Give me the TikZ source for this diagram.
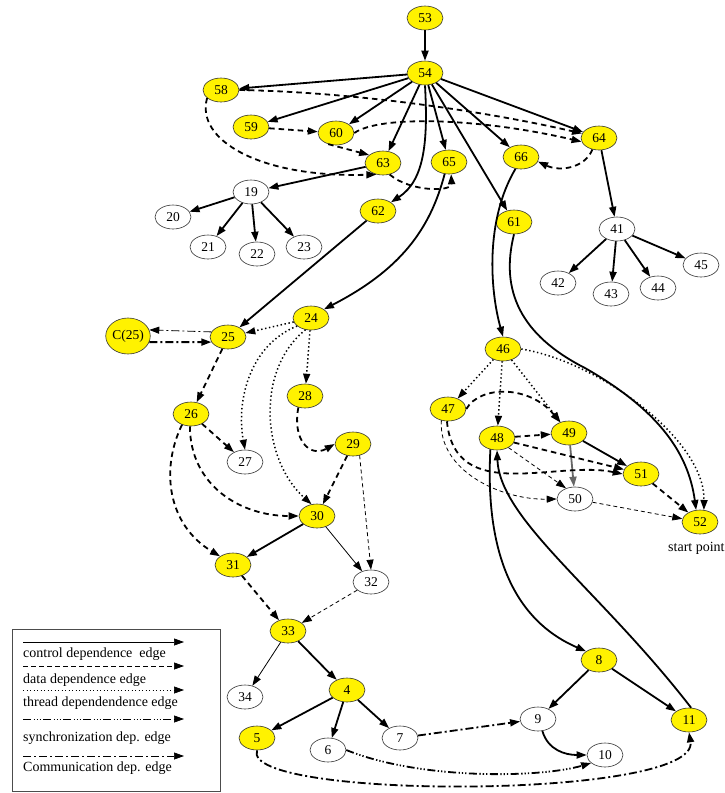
\documentclass[tikz,border=0pt]{standalone}
\usepackage{fontspec}
\setmainfont{Liberation Serif}
\usetikzlibrary{arrows.meta,shapes.geometric}
\newcommand{\nodefont}{\fontsize{13.5}{15}\selectfont}
\newcommand{\legfont}{\fontsize{14}{16}\selectfont}
\tikzset{
  yn/.style={ellipse, draw=black!80, line width=0.6pt, fill=yellow, minimum width=36pt, minimum height=24pt, inner sep=0pt, font=\nodefont},
  wn/.style={yn, fill=white},
  ar/.style={-{Triangle[length=10pt,width=7pt]}},
  ctl/.style={ar, line width=1.8pt},
  ctlthin/.style={ar, line width=0.8pt},
  dat/.style={ar, line width=1.8pt, dash pattern=on 5.5pt off 4pt},
  datthin/.style={ar, line width=0.8pt, dash pattern=on 4pt off 3pt},
  thr/.style={ar, line width=1.5pt, dash pattern=on 1.4pt off 2.6pt},
  com/.style={ar, line width=1.8pt, dash pattern=on 8pt off 3pt on 2pt off 3pt},
  comthin/.style={ar, line width=0.8pt, dash pattern=on 8pt off 3pt on 2pt off 3pt},
  syn/.style={ar, line width=1.8pt, dash pattern=on 8pt off 2.5pt on 1.3pt off 2pt on 1.3pt off 2pt on 1.3pt off 2.5pt},
  legline/.style={line width=0.7pt, -{Triangle[length=10pt,width=7pt]}},
  legtext/.style={anchor=west, inner sep=0pt, font=\legfont}
}
\begin{document}
\begin{tikzpicture}[x=1pt,y=-1pt]
\useasboundingbox (0,0) rectangle (725,793);
% nodes
\node[yn] (n53) at (425,18) {53};
\node[yn] (n54) at (425,73) {54};
\node[yn] (n58) at (221,90) {58};
\node[yn] (n59) at (251,127) {59};
\node[yn] (n60) at (336,133) {60};
\node[yn] (n63) at (383,163) {63};
\node[yn] (n65) at (449,162) {65};
\node[yn] (n66) at (521,157) {66};
\node[yn] (n64) at (599,138) {64};
\node[yn] (n62) at (378,211) {62};
\node[yn] (n61) at (514,222) {61};
\node[wn] (n19) at (251,192) {19};
\node[wn] (n20) at (173,217) {20};
\node[wn] (n21) at (208,247) {21};
\node[wn] (n22) at (257,254) {22};
\node[wn] (n23) at (304,247) {23};
\node[wn] (n41) at (617,229) {41};
\node[wn] (n42) at (558,283) {42};
\node[wn] (n43) at (611,294) {43};
\node[wn] (n44) at (658,288) {44};
\node[wn] (n45) at (701,265) {45};
\node[yn,minimum width=42pt,minimum height=36pt] (c25) at (128,336) {C(25)};
\node[yn] (n25) at (228,337) {25};
\node[yn] (n24) at (311,318) {24};
\node[yn] (n28) at (305,396) {28};
\node[yn] (n26) at (191,414) {26};
\node[wn] (n27) at (245,462) {27};
\node[yn] (n29) at (353,444) {29};
\node[yn] (n30) at (317,516) {30};
\node[yn] (n31) at (233,565) {31};
\node[wn] (n32) at (371,582) {32};
\node[yn] (n33) at (288,631) {33};
\node[wn] (n34) at (245,697) {34};
\node[yn] (n4) at (347,690) {4};
\node[yn] (n5) at (257,738) {5};
\node[wn] (n6) at (328,750) {6};
\node[wn] (n7) at (400,738) {7};
\node[wn] (n9) at (538,719) {9};
\node[wn] (n10) at (605,755) {10};
\node[yn] (n8) at (599,660) {8};
\node[yn] (n11) at (689,720) {11};
\node[yn] (n46) at (503,349) {46};
\node[yn] (n47) at (448,409) {47};
\node[yn] (n48) at (497,438) {48};
\node[yn] (n49) at (569,433) {49};
\node[yn] (n51) at (641,474) {51};
\node[wn] (n50) at (575,499) {50};
\node[yn] (n52) at (700,522) {52};
\node[legtext] (sp) at (668,548) {start point};

% control dependence
\draw[ctl] (n53) -- (n54);
\draw[ctl] (n54) -- (n58);
\draw[ctl] (n54) -- (n59);
\draw[ctl] (n54) -- (n60);
\draw[ctl] (n54) -- (n63);
\draw[ctl] (n54) -- (n65);
\draw[ctl] (n54) -- (n66);
\draw[ctl] (n54) -- (n61);
\draw[ctl] (n54) -- (n64);
\draw[ctl] (n54.south) .. controls (428,140) and (425,180) .. (n62.north east);
\draw[ctl] (n63) -- (n19);
\draw[ctl] (n19) -- (n20);
\draw[ctl] (n19) -- (n21);
\draw[ctl] (n19) -- (n22);
\draw[ctl] (n19) -- (n23);
\draw[ctl] (n64) -- (n41);
\draw[ctl] (n41) -- (n42);
\draw[ctl] (n41) -- (n43);
\draw[ctl] (n41) -- (n44);
\draw[ctl] (n41) -- (n45);
\draw[ctl] (n62) -- (n25);
\draw[ctl] (n65.-110) .. controls (430,230) and (400,270) .. (n24.north east);
\draw[ctl] (n66.-115) .. controls (485,220) and (490,290) .. (n46.north);
\draw[ctl] (n61.south) .. controls (500,290) and (520,335) .. (585,368) .. controls (655,408) and (688,450) .. (n52.108);
\draw[ctl] (n30) -- (n31);
\draw[ctlthin] (n30) -- (n32);
\draw[ctlthin] (n33) -- (n34);
\draw[ctl] (n33) -- (n4);
\draw[ctl] (n4) -- (n5);
\draw[ctl] (n4) -- (n6);
\draw[ctl] (n4) -- (n7);
\draw[ctl] (n8) -- (n9);
\draw[ctl] (n8) -- (n11);
\draw[ctl] (n48.-120) .. controls (484,570) and (525,625) .. (n8.north west);
\draw[ctl] (n11.80) .. controls (600,590) and (500,520) .. (n48.south);
\draw[ctl] (n9.-70) .. controls (548,750) and (565,755) .. (n10.west);
\draw[ctl, black!60] (n49) -- (n50);
\draw[ctl] (n49) -- (n51);

% data dependence
\draw[dat] (n58.east) .. controls (350,92) and (480,110) .. (n64.165);
\draw[dat] (n60.east) .. controls (380,115) and (480,118) .. (n64.192);
\draw[dat] (n59) -- (n60);
\draw[dat] (n60.-125) -- (n63.150);
\draw[dat] (n58.-150) .. controls (195,140) and (260,178) .. (n63.-120);
\draw[dat] (n63.-60) .. controls (410,192) and (452,192) .. (n65.-80);
\draw[dat] (n64.-120) .. controls (585,168) and (560,172) .. (n66.-15);
\draw[dat] (n25) -- (n26);
\draw[dat] (n26) -- (n27);
\draw[dat] (n26.-95) .. controls (190,485) and (240,516) .. (n30.west);
\draw[dat] (n26.-130) .. controls (160,470) and (168,525) .. (n31.north west);
\draw[dat] (n28.-120) .. controls (292,440) and (310,458) .. (n29.west);
\draw[dat] (n29) -- (n30);
\draw[datthin] (n29.-60) -- (n32.north);
\draw[dat] (n31) -- (n33);
\draw[datthin] (n32) -- (n33);
\draw[dat] (n47.east) .. controls (480,385) and (530,385) .. (n49.130);
\draw[dat] (n47.-95) .. controls (455,505) and (555,460) .. (n51.west);
\draw[datthin] (n47.-120) .. controls (438,470) and (500,500) .. (n50.west);
\draw[dat] (n48) -- (n49);
\draw[dat] (n48.-15) -- (n51.165);
\draw[datthin] (n48.-40) -- (n50.130);
\draw[datthin] (n50) -- (n52);
\draw[dat] (n51) -- (n52);

% thread dependence
\draw[thr] (n24) -- (n25);
\draw[thr] (n24.-150) .. controls (250,345) and (236,400) .. (n27.north);
\draw[thr] (n24.-115) .. controls (255,370) and (262,460) .. (n30.115);
\draw[thr] (n24) -- (n28);
\draw[thr] (n46) -- (n47);
\draw[thr] (n46) -- (n48);
\draw[thr] (n46) -- (n49);
\draw[thr] (n46.east) .. controls (600,362) and (705,440) .. (n52.72);

% communication / synchronization
\draw[comthin] (n25.163) -- (c25.16);
\draw[com] (c25.-16) -- (n25.197);
\draw[com] (n7) -- (n9);
\draw[com] (n5.south) .. controls (240,800) and (700,800) .. (n11.south);
\draw[syn] (n6.east) .. controls (420,780) and (540,778) .. (n10.-150);

% legend
\node[draw=black!70, line width=0.6pt, minimum width=208pt, minimum height=162pt, inner sep=0pt, anchor=north west] (leg) at (12,629) {};
\coordinate (l1a) at (23,642); \coordinate (l1b) at (184,642);
\coordinate (l2a) at (23,666); \coordinate (l2b) at (184,666);
\coordinate (l3a) at (23,690); \coordinate (l3b) at (184,690);
\coordinate (l4a) at (23,719); \coordinate (l4b) at (184,719);
\coordinate (l5a) at (23,756); \coordinate (l5b) at (184,756);
\draw[legline] (l1a) -- (l1b);
\draw[legline, dash pattern=on 5pt off 3pt] (l2a) -- (l2b);
\draw[legline, dash pattern=on 1pt off 2.5pt] (l3a) -- (l3b);
\draw[legline, dash pattern=on 8pt off 2.5pt on 1pt off 2pt on 1pt off 2pt on 1pt off 2.5pt] (l4a) -- (l4b);
\draw[legline, dash pattern=on 8pt off 3pt on 2pt off 3pt] (l5a) -- (l5b);
\node[legtext] (t1) at (23,654) {control dependence\ \ edge};
\node[legtext] (t2) at (23,680) {data dependence edge};
\node[legtext] (t3) at (23,703) {thread dependendence edge};
\node[legtext] (t4) at (23,738) {synchronization dep. edge};
\node[legtext] (t5) at (23,768) {Communication dep. edge};
\end{tikzpicture}
\end{document}
